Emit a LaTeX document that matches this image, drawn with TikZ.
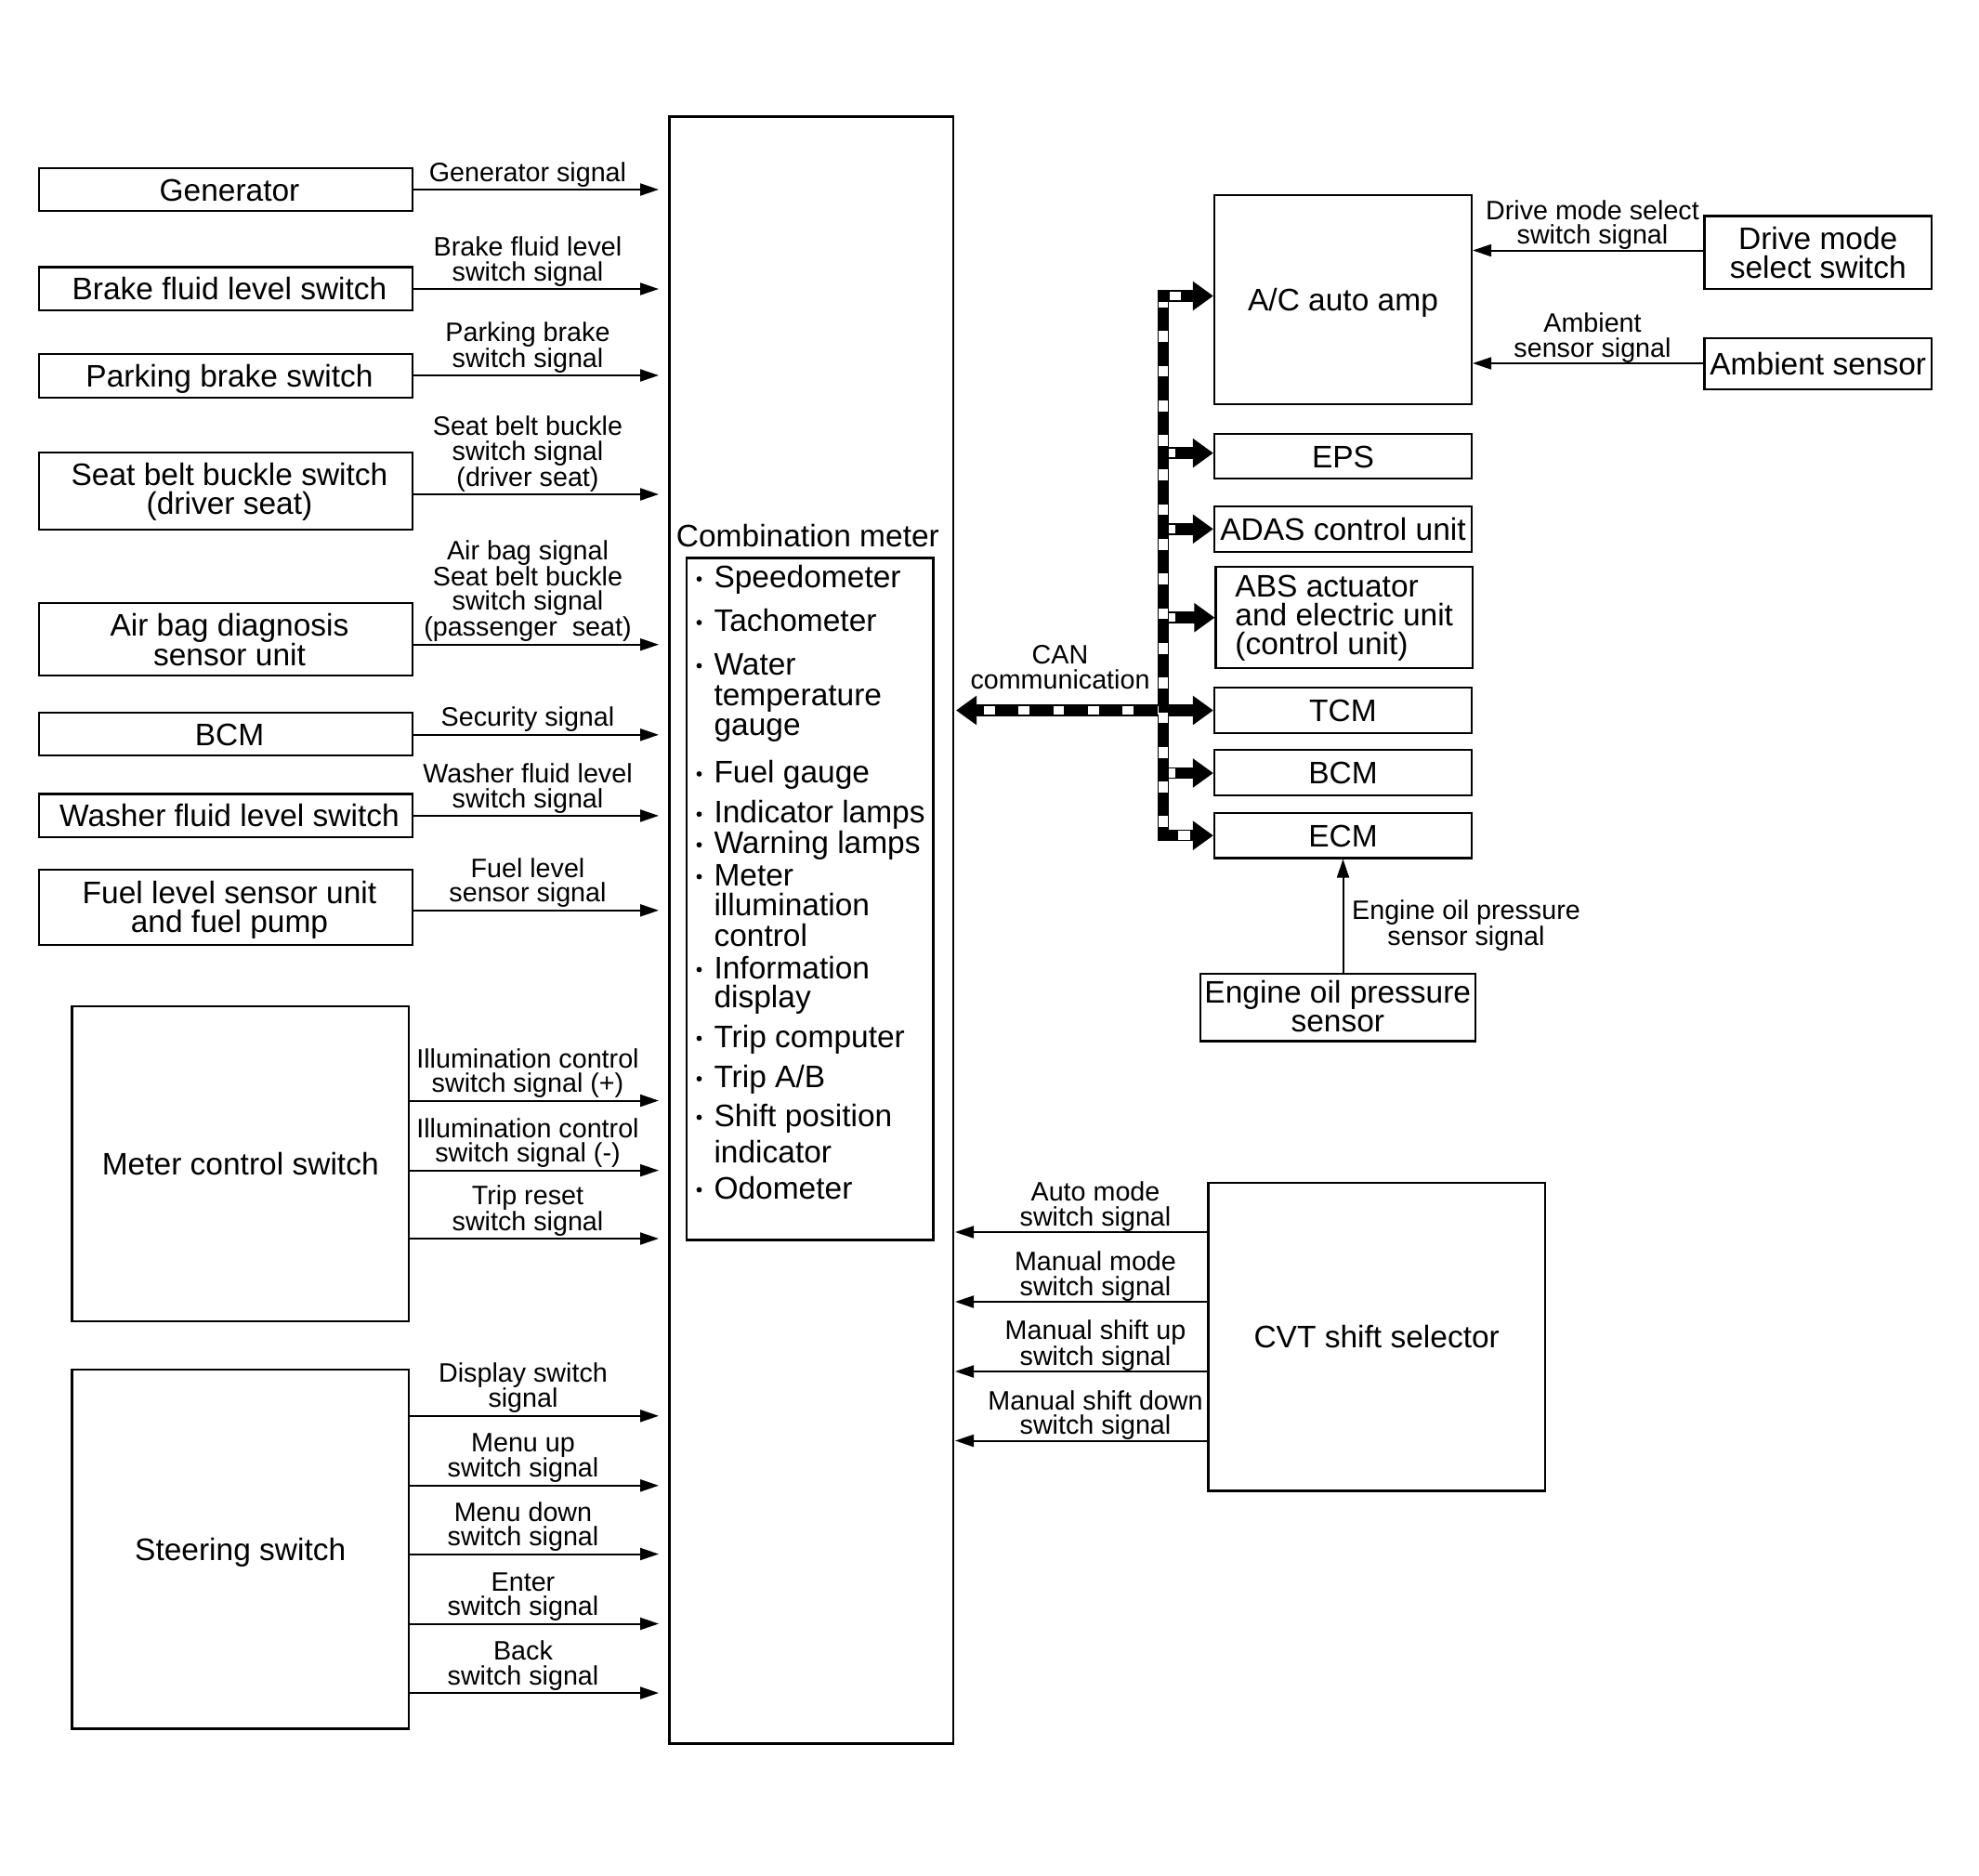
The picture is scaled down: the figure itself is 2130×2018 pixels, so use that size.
\documentclass[tikz,border=0pt]{standalone}
\usepackage{fontspec}
\setmainfont{Liberation Sans}
\usetikzlibrary{arrows.meta,calc}
\newcommand\BigF{\fontsize{33.5}{31}\selectfont}
\newcommand\SmallF{\fontsize{28.7}{26.4}\selectfont}
\newcommand\Sh{\hspace*{8pt}}
\tikzset{
  sigtip/.tip={Triangle[length=20pt,width=13pt]},
  cantip/.tip={Triangle[length=22pt,width=30pt]},
}
\begin{document}
\begin{tikzpicture}[x=1pt,y=-1pt,
  box/.style={draw, line width=2.2pt, inner sep=0pt, font=\BigF, align=center},
  one/.style={text height=24pt, text depth=0pt},
  multi/.style={text depth=0pt},
  lbl/.style={font=\SmallF, align=center, inner sep=0pt, anchor=base},
  item/.style={font=\BigF, inner sep=0pt, anchor=base west},
  sig/.style={line width=2pt, -{sigtip}},
  busblk/.style={line width=12.5pt, black},
  buswht/.style={line width=9.5pt, white},
  busdash/.style={line width=9.5pt, white, dash pattern=on 11.7pt off 25.6pt}
]
\useasboundingbox (0,0) rectangle (2130,2018);

% ---------- left boxes ----------
\node[box,one,minimum width=402pt,minimum height=46.7pt] (gen) at (243,204) {\Sh Generator};
\node[box,one,minimum width=402pt,minimum height=46.5pt] (brake) at (243,310.7) {\Sh Brake fluid level switch};
\node[box,one,minimum width=402pt,minimum height=47pt] (park) at (243,404.5) {\Sh Parking brake switch};
\node[box,multi,text depth=6pt,minimum width=402pt,minimum height=83pt] (seat) at (243,528.5) {\Sh Seat belt buckle switch\\\Sh (driver seat)};
\node[box,multi,minimum width=402pt,minimum height=78pt] (airbag) at (243,688) {\Sh Air bag diagnosis\\\Sh sensor unit};
\node[box,one,minimum width=402pt,minimum height=46pt] (bcml) at (243,790.3) {\Sh BCM};
\node[box,one,minimum width=402pt,minimum height=46.3pt] (washer) at (243,877.6) {\Sh Washer fluid level switch};
\node[box,multi,minimum width=402pt,minimum height=80.6pt] (fuel) at (243,976.3) {\Sh Fuel level sensor unit\\\Sh and fuel pump};
\node[box,one,minimum width=362.5pt,minimum height=338.6pt] (meterctl) at (258.75,1252.3) {Meter control switch};
\node[box,one,minimum width=362.5pt,minimum height=386.4pt] (steer) at (258.75,1667.2) {Steering switch};

% ---------- combination meter ----------
\node[box,minimum width=305.5pt,minimum height=1750.9pt] (comb) at (873.25,1001) {};
\node[item] (combt) at (727.7,588) {Combination meter};
\node[box,minimum width=265.5pt,minimum height=734.1pt] (list) at (871.75,967.45) {};
\node[item] (i1) at (768.3,632.6) {Speedometer};
\node[item] (i2) at (768.3,679.5) {Tachometer};
\node[item] (i3) at (768.3,726) {Water};
\node[item] (i3b) at (768.3,759) {temperature};
\node[item] (i3c) at (768.3,791) {gauge};
\node[item] (i4) at (768.3,842.4) {Fuel gauge};
\node[item] (i5) at (768.3,885.7) {Indicator lamps};
\node[item] (i6) at (768.3,918.7) {Warning lamps};
\node[item] (i7) at (768.3,953) {Meter};
\node[item] (i7b) at (768.3,985) {illumination};
\node[item] (i7c) at (768.3,1018.7) {control};
\node[item] (i8) at (768.3,1053) {Information};
\node[item] (i8b) at (768.3,1084.8) {display};
\node[item] (i9) at (768.3,1127) {Trip computer};
\node[item] (i10) at (768.3,1170.5) {Trip A/B};
\node[item] (i11) at (768.3,1212) {Shift position};
\node[item] (i11b) at (768.3,1251.7) {indicator};
\node[item] (i12) at (768.3,1290) {Odometer};
\foreach \b in {632.6,679.5,726,842.4,885.7,918.7,953,1053,1127,1170.5,1212,1290}
  \fill (752.5,\b-9.5) circle[radius=2.9pt];

% ---------- right boxes ----------
\node[box,one,minimum width=277pt,minimum height=225pt] (acamp) at (1445.5,322.5) {A/C auto amp};
\node[box,one,minimum width=277pt,minimum height=48.5pt] (eps) at (1445.5,491) {EPS};
\node[box,one,minimum width=277pt,minimum height=48.5pt] (adas) at (1445.5,569.5) {ADAS control unit};
\node[box,multi,text depth=6pt,align=left,minimum width=276.5pt,minimum height=109.3pt] (abs) at (1446.75,664.6) {ABS actuator\\and electric unit\\(control unit)};
\node[box,one,minimum width=277pt,minimum height=48.5pt] (tcm) at (1445.5,764.5) {TCM};
\node[box,one,minimum width=277pt,minimum height=49pt] (bcmr) at (1445.5,831.5) {BCM};
\node[box,one,minimum width=277pt,minimum height=48.5pt] (ecm) at (1445.5,899.2) {ECM};
\node[box,multi,minimum width=244.5pt,minimum height=78.5pt] (drive) at (1956.75,271.75) {Drive mode\\select switch};
\node[box,one,minimum width=244.5pt,minimum height=55pt] (ambient) at (1956.75,391.5) {Ambient sensor};
\node[box,multi,text depth=4pt,minimum width=296pt,minimum height=72.2pt] (engoil) at (1439.8,1084.4) {Engine oil pressure\\sensor};
\node[box,one,minimum width=362.6pt,minimum height=331.5pt] (cvt) at (1481.7,1438.75) {CVT shift selector};

% ---------- signal arrows (left) ----------
\coordinate (tipL) at (709,0);
\coordinate (tipR) at (1028,0);
\newcommand\SigR[3]{\coordinate (#3) at (0,#2);\draw[sig] (#1.east |- #3) -- (tipL |- #3);}
\SigR{gen}{204}{yGen}
\SigR{brake}{311}{yBrake}
\SigR{park}{404}{yPark}
\SigR{seat}{532}{ySeat}
\SigR{airbag}{693.7}{yAir}
\SigR{bcml}{790.8}{yBcm}
\SigR{washer}{877.9}{yWash}
\SigR{fuel}{979.8}{yFuel}
\SigR{meterctl}{1184.5}{yM1}
\SigR{meterctl}{1259.6}{yM2}
\SigR{meterctl}{1333}{yM3}
\SigR{steer}{1523.8}{yS1}
\SigR{steer}{1598.8}{yS2}
\SigR{steer}{1672.5}{yS3}
\SigR{steer}{1747.5}{yS4}
\SigR{steer}{1822}{yS5}

\node[lbl] (lGen) at (568,195) {Generator signal};
\node[lbl] (lBrake) at (568,302) {Brake fluid level\\switch signal};
\node[lbl] (lPark) at (568,395) {Parking brake\\switch signal};
\node[lbl] (lSeat) at (568,523) {Seat belt buckle\\switch signal\\(driver seat)};
\node[lbl] (lAir) at (568,684.7) {Air bag signal\\Seat belt buckle\\switch signal\\(passenger\ \ seat)};
\node[lbl] (lBcm) at (568,781.8) {Security signal};
\node[lbl] (lWash) at (568,869) {Washer fluid level\\switch signal};
\node[lbl] (lFuel) at (568,970.8) {Fuel level\\sensor signal};
\node[lbl] (lM1) at (568,1175.5) {Illumination control\\switch signal (+)};
\node[lbl] (lM2) at (568,1250.6) {Illumination control\\switch signal (-)};
\node[lbl] (lM3) at (568,1324) {Trip reset\\switch signal};
\node[lbl] (lS1) at (563,1514.8) {Display switch\\signal};
\node[lbl] (lS2) at (563,1589.8) {Menu up\\switch signal};
\node[lbl] (lS3) at (563,1663.5) {Menu down\\switch signal};
\node[lbl] (lS4) at (563,1738.5) {Enter\\switch signal};
\node[lbl] (lS5) at (563,1813) {Back\\switch signal};

% ---------- signal arrows (right) ----------
\coordinate (yDrv) at (0,269.5);
\coordinate (yAmb) at (0,391);
\draw[sig] (drive.west |- yDrv) -- (acamp.east |- yDrv);
\draw[sig] (ambient.west |- yAmb) -- (acamp.east |- yAmb);
\node[lbl] (lDrv) at (1714,262.9) {Drive mode select\\switch signal};
\node[lbl] (lAmb) at (1714,384.2) {Ambient\\sensor signal};

\draw[sig] (ecm.south |- engoil.north) -- (ecm.south);
\node[lbl] (lEng) at (1578,1017) {Engine oil pressure\\sensor signal};

\newcommand\SigL[2]{\coordinate (#2) at (0,#1);\draw[sig] (cvt.west |- #2) -- (tipR |- #2);}
\SigL{1326}{yC1}
\SigL{1401}{yC2}
\SigL{1476}{yC3}
\SigL{1550.5}{yC4}
\node[lbl] (lC1) at (1179,1319) {Auto mode\\switch signal};
\node[lbl] (lC2) at (1179,1394) {Manual mode\\switch signal};
\node[lbl] (lC3) at (1179,1469) {Manual shift up\\switch signal};
\node[lbl] (lC4) at (1179,1543.5) {Manual shift down\\switch signal};

% ---------- CAN bus ----------
\coordinate (bTop) at (1252,318.5);
\coordinate (bBot) at (1252,899.2);
\coordinate (bE) at (1252,487.6);
\coordinate (bD) at (1252,569.3);
\coordinate (bS) at (1252,664.7);
\coordinate (bT) at (1252,764.5);
\coordinate (bB) at (1252,832);
\coordinate (canL) at (1029,764.5);

\draw[busblk,line cap=rect] (bTop) -- (bBot);
\draw[busblk,-{cantip}] (bTop) -- (bTop -| acamp.west);
\draw[busblk,-{cantip}] (bE) -- (bE -| eps.west);
\draw[busblk,-{cantip}] (bD) -- (bD -| adas.west);
\draw[busblk,-{cantip}] (bS) -- (bS -| abs.west);
\draw[busblk,-{cantip}] (bB) -- (bB -| bcmr.west);
\draw[busblk,-{cantip}] (bBot) -- (bBot -| ecm.west);
\draw[busblk,{cantip}-{cantip}] (canL) -- (canL -| tcm.west);

% white inner marks of the CAN lines
\draw[busdash,dash phase=5.8pt] ($(bTop)+(0,6.2)$) -- (bBot);
\draw[busdash,dash phase=29.3pt] ($(canL)+(22,0)$) -- ($(bT)+(-6,0)$);
\draw[buswht] ($(bTop)+(7.3,0)$) -- ++(11.7,0);
\draw[buswht] ($(bE)+(6.3,0)$) -- ++(6.7,0);
\draw[buswht] ($(bD)+(6.3,0)$) -- ++(6.7,0);
\draw[buswht] ($(bS)+(6.3,0)$) -- ++(6.7,0);
\draw[buswht] ($(bB)+(6.3,0)$) -- ++(6.7,0);
\draw[buswht] ($(bBot)+(16.3,0)$) -- ++(12.7,0);

\node[lbl] (lCan) at (1141,741) {CAN\\communication};
\end{tikzpicture}
\end{document}
